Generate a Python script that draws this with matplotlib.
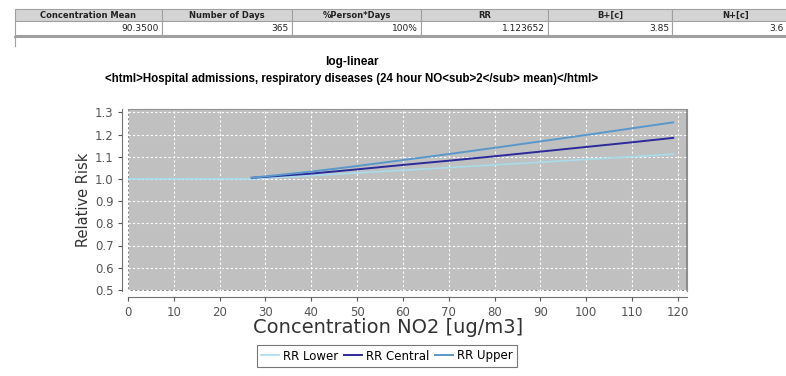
import matplotlib.pyplot as plt
from matplotlib.patches import Rectangle

# table above the chart
headers = ["Concentration Mean", "Number of Days", "%Person*Days", "RR", "B+[c]", "N+[c]"]
cells = ["90.3500", "365", "100%", "1.123652", "3.85", "3.6"]

# curves
conc = [27, 40, 50, 60, 70, 80, 90, 100, 110, 119]
lower_x = [0, 10, 20] + conc
rr_lower = [1.0, 1.0, 1.0, 1.0, 1.015, 1.027, 1.039, 1.051, 1.063, 1.075, 1.088, 1.100, 1.112]
rr_central = [1.005, 1.024, 1.043, 1.063, 1.082, 1.102, 1.123, 1.144, 1.165, 1.185]
rr_upper = [1.005, 1.033, 1.058, 1.085, 1.112, 1.140, 1.169, 1.198, 1.228, 1.255]

W, H = 786, 376
fig = plt.figure(figsize=(W / 100, H / 100), dpi=100)

# --- table, drawn in pixel coordinates on a full-figure axes
tab = fig.add_axes([0, 0, 1, 1])
tab.set_xlim(0, W)
tab.set_ylim(H, 0)
tab.axis("off")
edges = [15, 162, 292, 421, 548, 672, 800]
for i, (h, c) in enumerate(zip(headers, cells)):
    x0, x1 = edges[i], edges[i + 1]
    tab.add_patch(Rectangle((x0, 9), x1 - x0, 12, facecolor="#d4d4d4", edgecolor="#a0a0a0", lw=0.8))
    tab.add_patch(Rectangle((x0, 21), x1 - x0, 14, facecolor="white", edgecolor="#a0a0a0", lw=0.8))
    tab.text((x0 + x1) / 2, 15.5, h, ha="center", va="center", fontsize=6, fontweight="bold", color="#222222")
    tab.text(min(x1 - 3, W - 2), 28.5, c, ha="right", va="center", fontsize=6.5, color="#222222")
tab.plot([15, 800], [37, 37], color="#a0a0a0", lw=1.5)
tab.plot([15, 15], [35, 46], color="#a0a0a0", lw=0.8)

# --- chart
ax = fig.add_axes([128 / W, 1 - 291 / H, (687 - 128) / W, (291 - 109) / H])
ax.set_facecolor("#c0c0c0")
ax.plot(lower_x, rr_lower, color="#a8dcec", lw=1.2, label="RR Lower")
ax.plot(conc, rr_central, color="#2a2a9c", lw=1.4, label="RR Central")
ax.plot(conc, rr_upper, color="#5a98cc", lw=1.4, label="RR Upper")

ax.set_xlim(0, 122)
ax.set_ylim(0.495, 1.315)
ax.set_xticks(range(0, 121, 10))
ax.set_yticks([0.5 + 0.1 * i for i in range(9)])
ax.set_yticklabels([f"{0.5 + 0.1 * i:.1f}" for i in range(9)])
ax.grid(True, color="white", linestyle=(0, (2, 2)), lw=0.8)
ax.tick_params(colors="#555555", labelsize=8.5, length=3, width=0.8)
for s in ["top", "right"]:
    ax.spines[s].set_color("#909090")
for s in ["left", "bottom"]:
    ax.spines[s].set_position(("outward", 4))
    ax.spines[s].set_color("#707070")
ax.add_patch(Rectangle((0, 0), 1, 1, transform=ax.transAxes, fill=False, edgecolor="#808080", lw=1.2))

ax.set_xlabel("Concentration NO2 [ug/m3]", fontsize=14, color="#333333")
ax.xaxis.set_label_coords((388 - 128) / (687 - 128), -0.15)
ax.set_ylabel("Relative Risk", fontsize=10.5, color="#333333", labelpad=3)

fig.text(352 / W, 1 - 62 / H, "log-linear", ha="center", va="center", fontsize=8.5,
         fontweight="bold", family="Liberation Sans")
fig.text(352 / W, 1 - 79 / H,
         "<html>Hospital admissions, respiratory diseases (24 hour NO<sub>2</sub> mean)</html>",
         ha="center", va="center", fontsize=8.3, fontweight="bold", family="Liberation Sans")

leg = fig.legend(loc="center", bbox_to_anchor=(387 / W, 1 - 356 / H), ncol=3, fontsize=8.5,
                 frameon=True, fancybox=False, handlelength=1.5, handletextpad=0.35,
                 columnspacing=0.5, borderpad=0.35)
leg.get_frame().set_edgecolor("#555555")
leg.get_frame().set_linewidth(0.8)

fig.savefig("out.png", dpi=100)
